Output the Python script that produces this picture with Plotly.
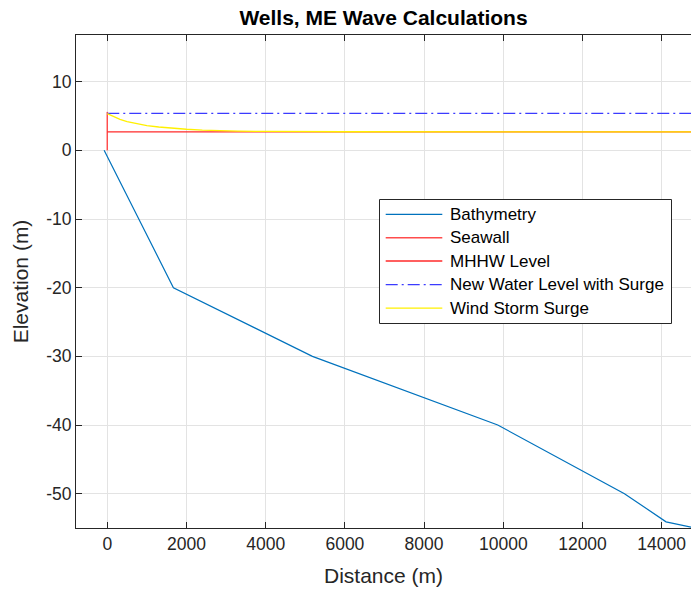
import plotly.graph_objects as go

# Seafloor profile offshore of Wells, ME
bathy_x = [-80, 1670, 5180, 9860, 13060, 14110, 15000]
bathy_y = [0, -20, -30, -40, -50, -54.1, -55.2]

# Seawall at the shoreline
seawall_x = [0, 0]
seawall_y = [0, 5.6]

# Mean higher high water
mhhw_x = [0, 15000]
mhhw_y = [2.7, 2.7]

# Water level including surge
surge_level_x = [0, 15000]
surge_level_y = [5.4, 5.4]

# Wind storm surge profile
wind_x = [0, 150, 320, 500, 720, 1000, 1300, 1600, 2000, 2400, 2800, 3300, 4000, 6000, 15000]
wind_y = [5.35, 4.9, 4.5, 4.2, 3.9, 3.6, 3.4, 3.22, 3.07, 2.95, 2.87, 2.8, 2.75, 2.71, 2.7]

x_ticks = [0, 2000, 4000, 6000, 8000, 10000, 12000, 14000]
y_ticks = [-50, -40, -30, -20, -10, 0, 10]

FONT = "Liberation Sans, Arial, Helvetica, sans-serif"
INK = "#262626"
W, H = 691, 595
L, R, T, B = 76, 0, 35, 67

series = [
    dict(name="Bathymetry", x=bathy_x, y=bathy_y, color="#0072BD", dash="solid", width=1.2),
    dict(name="Seawall", x=seawall_x, y=seawall_y, color="#FF4D4D", dash="solid", width=1.5),
    dict(name="MHHW Level", x=mhhw_x, y=mhhw_y, color="#FF2A2A", dash="solid", width=1.3),
    dict(name="New Water Level with Surge", x=surge_level_x, y=surge_level_y,
         color="#3B3BFF", dash="12px,4px,2px,4px", width=1.3),
    dict(name="Wind Storm Surge", x=wind_x, y=wind_y, color="#FFF000", dash="solid", width=1.3),
]

fig = go.Figure()
for s in series:
    fig.add_trace(go.Scatter(
        x=s["x"], y=s["y"], mode="lines", name=s["name"], showlegend=False,
        line=dict(color=s["color"], dash=s["dash"], width=s["width"]),
    ))

fig.update_layout(
    width=W, height=H,
    margin=dict(l=L, r=R, t=T, b=B, pad=0),
    paper_bgcolor="white", plot_bgcolor="white",
    font=dict(family=FONT, color=INK, size=17.5),
    title=dict(text="<b>Wells, ME Wave Calculations</b>", x=0.5, xref="paper",
               y=1 - 18 / H, yref="container", xanchor="center", yanchor="middle",
               font=dict(family=FONT, size=21, color="black")),
    showlegend=False,
)

fig.update_xaxes(
    range=[-790, 14740], tickvals=x_ticks, ticktext=[str(v) for v in x_ticks],
    ticks="inside", ticklen=6, tickcolor=INK, showline=True, linecolor=INK, linewidth=1,
    mirror="ticks", showgrid=True, gridcolor="#E3E3E3", gridwidth=1, zeroline=False,
    tickfont=dict(size=17.5, color=INK),
    title=dict(text="Distance (m)", font=dict(size=21, color=INK), standoff=15),
)
fig.update_yaxes(
    range=[-55, 16.8], tickvals=y_ticks, ticktext=[str(v) for v in y_ticks],
    ticks="inside", ticklen=6, tickcolor=INK, showline=True, linecolor=INK, linewidth=1,
    mirror=False, showgrid=True, gridcolor="#E3E3E3", gridwidth=1, zeroline=False,
    tickfont=dict(size=17.5, color=INK),
    title=dict(text="Elevation (m)", font=dict(size=21, color=INK), standoff=11),
)

# Boxed legend inside the axes
pw, ph = W - L - R, H - T - B
def px_x(px):
    return (px - L) / pw
def px_y(py):
    return (H - B - py) / ph

box = (379.5, 199.5, 671.5, 323.5)
fig.add_shape(type="rect", xref="paper", yref="paper",
              x0=px_x(box[0]), x1=px_x(box[2]), y0=px_y(box[3]), y1=px_y(box[1]),
              line=dict(color=INK, width=1), fillcolor="white", layer="above")
row_y = [214.3, 237.7, 261.0, 284.6, 308.2]
for s, ry in zip(series, row_y):
    fig.add_shape(type="line", xref="paper", yref="paper",
                  x0=px_x(385.7), x1=px_x(442.3), y0=px_y(ry), y1=px_y(ry),
                  line=dict(color=s["color"], dash=s["dash"], width=s["width"]), layer="above")
    fig.add_annotation(text=s["name"], xref="paper", yref="paper",
                       x=px_x(447.5), y=px_y(ry), xanchor="left", yanchor="middle",
                       showarrow=False, font=dict(size=17, color="black", family=FONT))

fig.write_html("out.html")
